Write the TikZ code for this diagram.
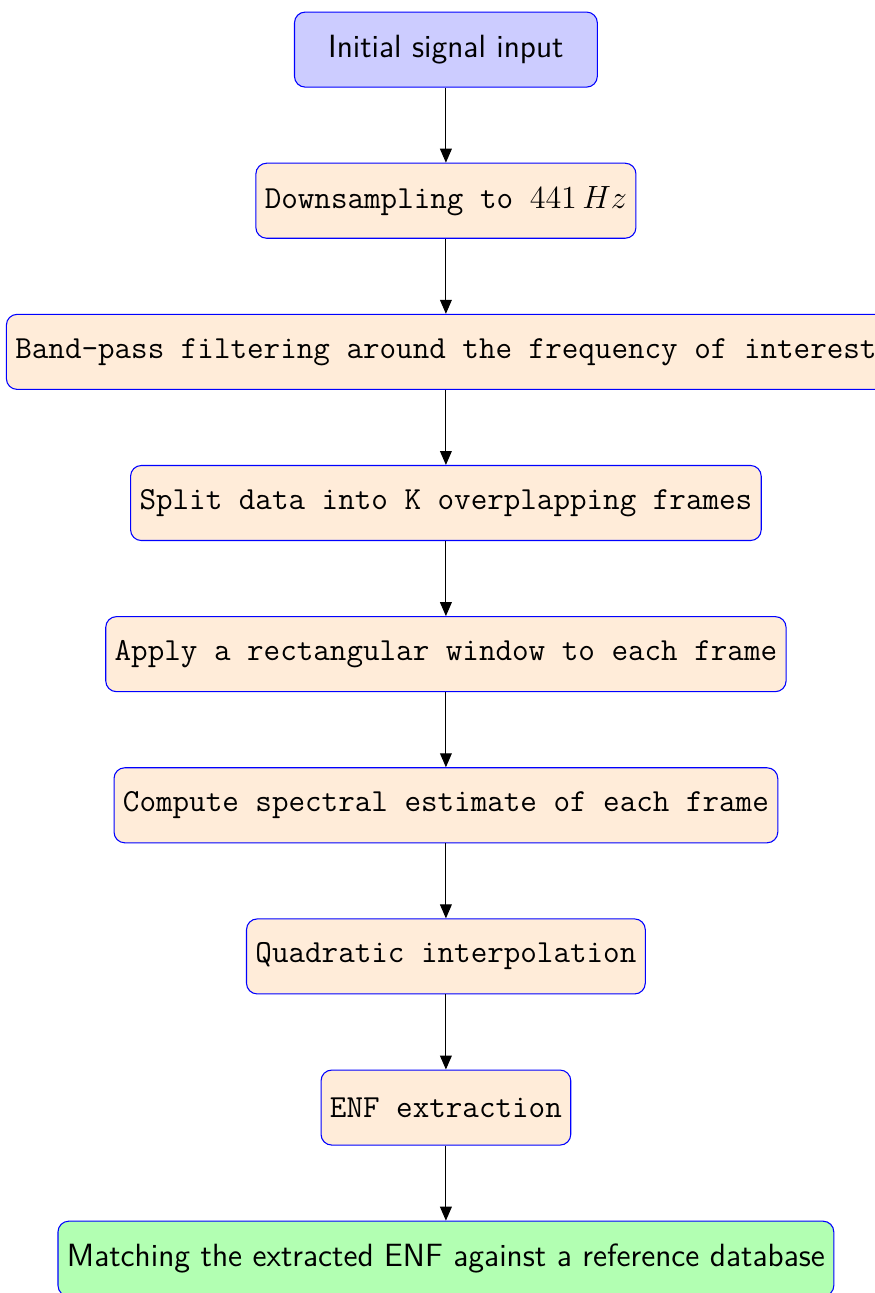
\documentclass[tikz,border=0pt]{standalone}
\usetikzlibrary{positioning,arrows.meta}

\begin{document}
\begin{tikzpicture}[
        node distance=28pt,
        every node/.style={font=\large},
        block/.style={rectangle,draw=blue,rounded corners,minimum height=28pt,fill=orange!15,font=\large\ttfamily},
        startblock/.style={block,fill=blue!20,minimum width=113pt,font=\large\sffamily},
        endblock/.style={block,fill=green!30,font=\large\sffamily},
        flow/.style={-{Triangle[length=5.2pt,width=4.4pt]}}
    ]
        \useasboundingbox (-166.4pt,18.5pt) rectangle (160.1pt,-464pt);

        \node[startblock] (input) at (0,0) {Initial signal input};
        \node[block,below=of input] (down) {Downsampling to $441\,Hz$};
        \node[block,below=of down] (band) {Band-pass filtering around the frequency of interest};
        \node[block,below=of band] (split) {Split data into K overplapping frames};
        \node[block,below=of split] (window) {Apply a rectangular window to each frame};
        \node[block,below=of window] (spectral) {Compute spectral estimate of each frame};
        \node[block,below=of spectral] (interp) {Quadratic interpolation};
        \node[block,below=of interp] (enf) {ENF extraction};
        \node[endblock,below=of enf] (match) {Matching the extracted ENF against a reference database};

        \foreach \a/\b in {input/down,down/band,band/split,split/window,window/spectral,spectral/interp,interp/enf,enf/match}{
                \draw[flow] (\a) -- (\b);
            }
    \end{tikzpicture}
\end{document}
